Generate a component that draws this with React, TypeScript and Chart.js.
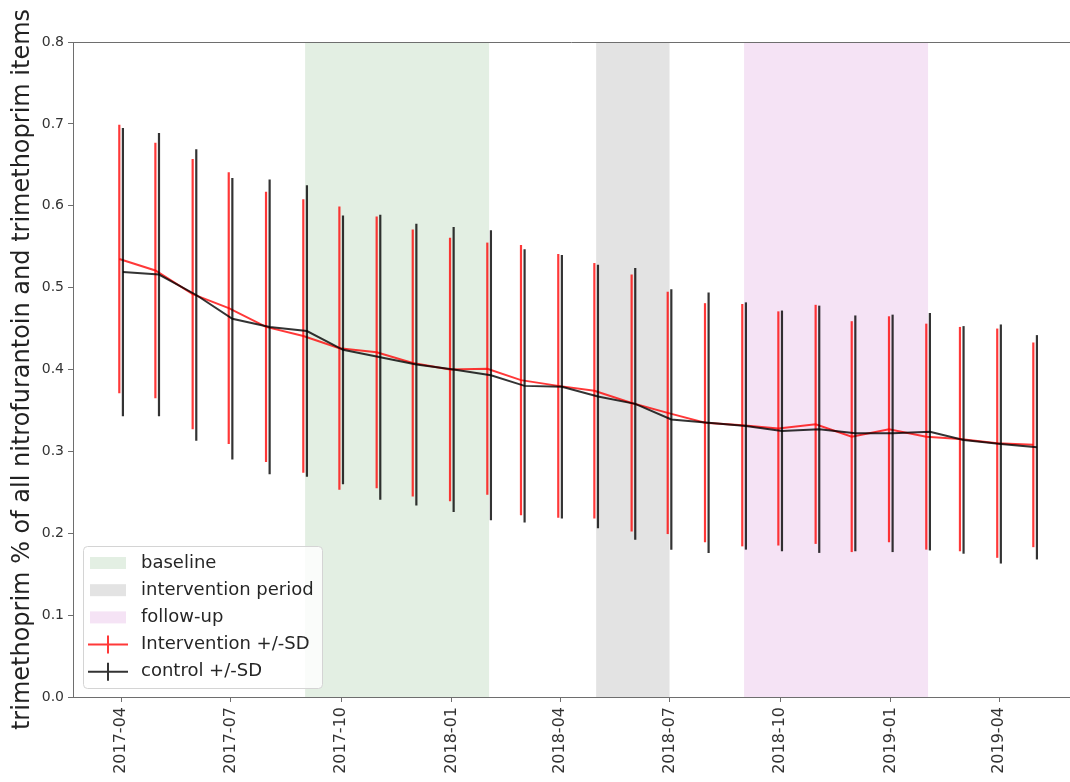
import React, { useEffect, useRef } from "react";
import { Chart, registerables } from "chart.js";

Chart.register(...registerables);

const months = [
  "2017-04", "2017-05", "2017-06", "2017-07", "2017-08", "2017-09", "2017-10", "2017-11", "2017-12",
  "2018-01", "2018-02", "2018-03", "2018-04", "2018-05", "2018-06", "2018-07", "2018-08", "2018-09",
  "2018-10", "2018-11", "2018-12", "2019-01", "2019-02", "2019-03", "2019-04", "2019-05",
];

const interventionMean = [
  0.535, 0.521, 0.492, 0.475, 0.452, 0.441, 0.426, 0.421, 0.408, 0.400, 0.401, 0.387, 0.380,
  0.374, 0.359, 0.347, 0.335, 0.332, 0.328, 0.333, 0.318, 0.327, 0.318, 0.315, 0.310, 0.308,
];
const interventionSD = [
  0.164, 0.156, 0.165, 0.166, 0.165, 0.167, 0.173, 0.166, 0.163, 0.161, 0.154, 0.165, 0.161,
  0.156, 0.157, 0.148, 0.146, 0.148, 0.143, 0.146, 0.141, 0.138, 0.138, 0.137, 0.140, 0.125,
];
const controlMean = [
  0.519, 0.516, 0.491, 0.462, 0.452, 0.447, 0.424, 0.415, 0.406, 0.400, 0.393, 0.380, 0.379,
  0.367, 0.358, 0.339, 0.335, 0.331, 0.325, 0.327, 0.322, 0.322, 0.324, 0.314, 0.309, 0.305,
];
const controlSD = [
  0.176, 0.173, 0.178, 0.172, 0.180, 0.178, 0.164, 0.174, 0.172, 0.174, 0.177, 0.167, 0.161,
  0.161, 0.166, 0.159, 0.159, 0.151, 0.147, 0.151, 0.144, 0.145, 0.145, 0.139, 0.146, 0.137,
];

const xTickLabels = ["2017-04", "2017-07", "2017-10", "2018-01", "2018-04", "2018-07", "2018-10", "2019-01", "2019-04"];
const yTickValues = [0, 0.1, 0.2, 0.3, 0.4, 0.5, 0.6, 0.7, 0.8];

const periodNames = ["baseline", "intervention period", "follow-up"];
const periodStarts = ["2017-09-01", "2018-05-01", "2018-09-01"];
const periodEnds = ["2018-02-01", "2018-07-01", "2019-02-01"];
const periodColors = ["#e3efe3", "#e3e3e3", "#f5e3f5"];

const seriesNames = ["Intervention +/-SD", "control +/-SD"];
const seriesColors = ["rgba(255,0,0,0.78)", "rgba(0,0,0,0.8)"];

const xMin = "2017-02-20";
const xMax = "2019-05-30";

const DAY = 86400000;
const toMs = (s: string) =>
  Date.UTC(+s.slice(0, 4), +s.slice(5, 7) - 1, s.length > 7 ? +s.slice(8, 10) : 1);
const fmt = (v: number) => {
  const d = new Date(v);
  const m = d.getUTCMonth() + 1;
  return `${d.getUTCFullYear()}-${m < 10 ? "0" + m : m}`;
};

const FONT = "'DejaVu Sans', 'Liberation Sans', sans-serif";

const shadingPlugin = {
  id: "shading",
  beforeDatasetsDraw(chart: any) {
    const { ctx, chartArea, scales } = chart;
    ctx.save();
    for (let i = 0; i < periodStarts.length; i++) {
      const x0 = scales.x.getPixelForValue(toMs(periodStarts[i]));
      const x1 = scales.x.getPixelForValue(toMs(periodEnds[i]));
      ctx.fillStyle = periodColors[i];
      ctx.fillRect(x0, chartArea.top, x1 - x0, chartArea.bottom - chartArea.top);
    }
    ctx.restore();
  },
};

const errorBarPlugin = {
  id: "errorBars",
  beforeDatasetDraw(chart: any, args: any) {
    const ds = chart.data.datasets[args.index];
    const sd: number[] = ds.sd;
    if (!sd) return;
    const { ctx, chartArea, scales } = chart;
    ctx.save();
    ctx.beginPath();
    ctx.rect(chartArea.left, chartArea.top, chartArea.right - chartArea.left, chartArea.bottom - chartArea.top);
    ctx.clip();
    ctx.strokeStyle = ds.borderColor;
    ctx.lineWidth = 2.2;
    args.meta.data.forEach((el: any, i: number) => {
      const v = ds.data[i].y;
      const yTop = scales.y.getPixelForValue(v + sd[i]);
      const yBot = scales.y.getPixelForValue(v - sd[i]);
      ctx.beginPath();
      ctx.moveTo(el.x, yTop);
      ctx.lineTo(el.x, yBot);
      ctx.stroke();
    });
    ctx.restore();
  },
};

const framePlugin = {
  id: "frame",
  afterDatasetsDraw(chart: any) {
    const { ctx, chartArea } = chart;
    ctx.save();
    ctx.strokeStyle = "#6e6e6e";
    ctx.lineWidth = 1;
    ctx.beginPath();
    ctx.moveTo(chartArea.left, chartArea.top + 0.5);
    ctx.lineTo(chartArea.right, chartArea.top + 0.5);
    ctx.stroke();
    ctx.restore();
  },
};

const legendPlugin = {
  id: "customLegend",
  afterDraw(chart: any) {
    const { ctx, chartArea } = chart;
    const bx = chartArea.left + 10;
    const by = chartArea.bottom - 151;
    const bw = 239;
    const bh = 142;
    ctx.save();
    ctx.fillStyle = "rgba(255,255,255,0.8)";
    ctx.strokeStyle = "#d4d4d4";
    ctx.lineWidth = 1;
    ctx.beginPath();
    if (ctx.roundRect) ctx.roundRect(bx + 0.5, by + 0.5, bw, bh, 4);
    else ctx.rect(bx + 0.5, by + 0.5, bw, bh);
    ctx.fill();
    ctx.stroke();
    ctx.font = `18px ${FONT}`;
    ctx.textBaseline = "middle";
    ctx.textAlign = "left";
    const rowH = 27.2;
    const firstY = by + 17;
    const patchX = bx + 7;
    const patchW = 36;
    const textX = bx + 58;
    for (let i = 0; i < periodNames.length; i++) {
      const cy = firstY + i * rowH;
      ctx.fillStyle = periodColors[i];
      ctx.fillRect(patchX, cy - 6, patchW, 12);
      ctx.fillStyle = "#262626";
      ctx.fillText(periodNames[i], textX, cy);
    }
    for (let j = 0; j < seriesNames.length; j++) {
      const cy = firstY + (periodNames.length + j) * rowH;
      ctx.strokeStyle = seriesColors[j];
      ctx.lineWidth = 2;
      ctx.beginPath();
      ctx.moveTo(patchX - 2, cy);
      ctx.lineTo(patchX + patchW + 2, cy);
      ctx.moveTo(patchX + patchW / 2, cy - 9);
      ctx.lineTo(patchX + patchW / 2, cy + 9);
      ctx.stroke();
      ctx.fillStyle = "#262626";
      ctx.fillText(seriesNames[j], textX, cy);
    }
    ctx.restore();
  },
};

export default function App() {
  const ref = useRef<HTMLCanvasElement>(null);
  useEffect(() => {
    if (!ref.current) return;
    const interventionData = months.map((m, i) => ({ x: toMs(m) - 1.5 * DAY, y: interventionMean[i] }));
    const controlData = months.map((m, i) => ({ x: toMs(m) + 1.5 * DAY, y: controlMean[i] }));
    const chart = new Chart(ref.current, {
      type: "line",
      data: {
        datasets: [
          {
            label: seriesNames[0],
            data: interventionData,
            borderColor: seriesColors[0],
            borderWidth: 2,
            pointRadius: 0,
            tension: 0,
            order: 2,
            sd: interventionSD,
          } as any,
          {
            label: seriesNames[1],
            data: controlData,
            borderColor: seriesColors[1],
            borderWidth: 2,
            pointRadius: 0,
            tension: 0,
            order: 1,
            sd: controlSD,
          } as any,
        ],
      },
      options: {
        responsive: false,
        animation: false,
        devicePixelRatio: 1,
        layout: { padding: { top: 42, right: 0, left: 0, bottom: 0 } },
        plugins: { legend: { display: false }, tooltip: { enabled: false } },
        scales: {
          x: {
            type: "linear",
            min: toMs(xMin),
            max: toMs(xMax),
            afterBuildTicks: (scale: any) => {
              scale.ticks = xTickLabels.map((t) => ({ value: toMs(t) }));
            },
            afterFit: (scale: any) => {
              scale.height = 85;
            },
            ticks: {
              minRotation: 90,
              maxRotation: 90,
              padding: 5,
              color: "#333",
              font: { family: FONT, size: 16 },
              callback: (v: any) => fmt(Number(v)),
            },
            grid: { drawOnChartArea: false, drawTicks: true, tickLength: 5, color: "#6e6e6e" },
            border: { display: true, color: "#6e6e6e", width: 1 },
          },
          y: {
            type: "linear",
            min: 0,
            max: 0.8,
            afterBuildTicks: (scale: any) => {
              scale.ticks = yTickValues.map((v) => ({ value: v }));
            },
            afterFit: (scale: any) => {
              scale.width = 73;
            },
            ticks: {
              padding: 4,
              color: "#333",
              font: { family: FONT, size: 14 },
              callback: (v: any) => Number(v).toFixed(1),
            },
            title: {
              display: true,
              text: "trimethoprim % of all nitrofurantoin and trimethoprim items",
              color: "#222",
              font: { family: FONT, size: 24 },
              padding: { top: 8, bottom: 0 },
            },
            grid: { drawOnChartArea: false, drawTicks: true, tickLength: 5, color: "#6e6e6e" },
            border: { display: true, color: "#6e6e6e", width: 1 },
          },
        },
      } as any,
      plugins: [shadingPlugin, errorBarPlugin, framePlugin, legendPlugin],
    });
    return () => chart.destroy();
  }, []);
  return (
    <div style={{ position: "fixed", left: 0, top: 0, width: 1070, height: 782, background: "#fff" }}>
      <canvas ref={ref} width={1070} height={782} style={{ display: "block" }} />
    </div>
  );
}
